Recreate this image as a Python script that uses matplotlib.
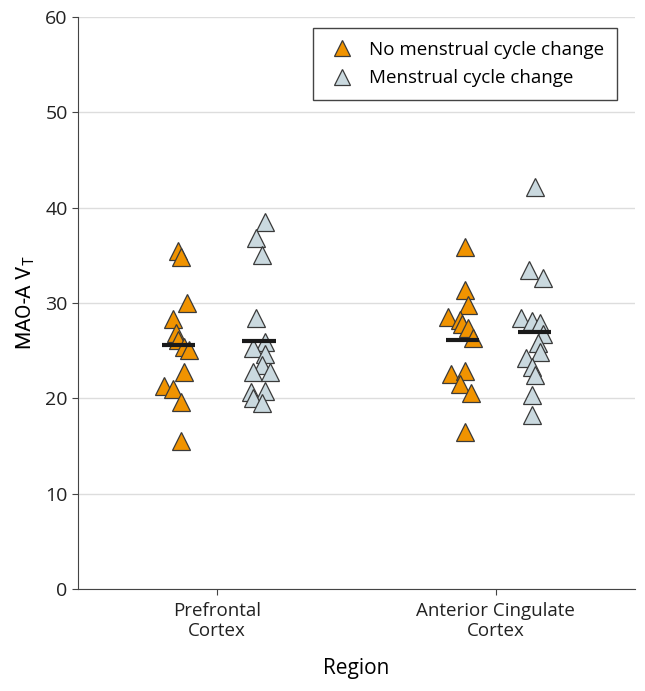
import numpy as np
import matplotlib.pyplot as plt
from matplotlib.lines import Line2D

regions = ["Prefrontal\nCortex", "Anterior Cingulate\nCortex"]

# MAO-A VT values
pfc_no = [35.5, 34.8, 30.0, 28.3, 26.9, 26.1, 25.4, 25.1, 22.8, 21.3, 21.0, 19.6, 15.5]
pfc_yes = [38.5, 36.8, 35.0, 28.4, 25.9, 25.3, 24.7, 23.5, 22.8, 22.8, 20.7, 20.8, 20.0, 19.5]
acc_no = [35.9, 31.4, 29.8, 28.5, 28.2, 27.8, 27.4, 26.3, 22.6, 22.9, 21.5, 20.6, 16.5]
acc_yes = [42.2, 33.5, 32.6, 28.4, 28.1, 27.9, 26.7, 25.8, 24.9, 24.2, 23.3, 22.5, 20.4, 18.2]

# horizontal jitter (in category units) as seen in the figure
pfc_no_jit = [-0.14, -0.13, -0.11, -0.16, -0.15, -0.14, -0.12, -0.10, -0.12, -0.19, -0.16, -0.13, -0.13]
pfc_yes_jit = [0.17, 0.14, 0.16, 0.14, 0.17, 0.13, 0.17, 0.16, 0.13, 0.19, 0.12, 0.17, 0.13, 0.16]
acc_no_jit = [-0.11, -0.11, -0.10, -0.17, -0.13, -0.12, -0.10, -0.08, -0.16, -0.11, -0.13, -0.09, -0.11]
acc_yes_jit = [0.14, 0.12, 0.17, 0.09, 0.13, 0.16, 0.17, 0.15, 0.16, 0.11, 0.13, 0.14, 0.13, 0.13]

# group mean lines
means_no = [25.6, 26.1]
means_yes = [26.0, 27.0]

orange = "#f09300"
grey_blue = "#cad9df"
edge = "#3a3a3a"

fig = plt.figure(figsize=(6.45, 6.91), dpi=100)
ax = fig.add_axes([0.121, 0.1476, 0.8635, 0.8278])

ms = 13
for pos, vals, jit in [(0, pfc_no, pfc_no_jit), (1, acc_no, acc_no_jit)]:
    ax.plot(pos + np.array(jit), vals, '^', ms=ms, mfc=orange, mec=edge, mew=0.9, ls='none', zorder=3)
for pos, vals, jit in [(0, pfc_yes, pfc_yes_jit), (1, acc_yes, acc_yes_jit)]:
    ax.plot(pos + np.array(jit), vals, '^', ms=ms, mfc=grey_blue, mec=edge, mew=0.9, ls='none', zorder=3)

for i in range(2):
    c_no = [-0.14, -0.12][i]
    c_yes = [0.15, 0.14][i]
    ax.plot([i + c_no - 0.06, i + c_no + 0.06], [means_no[i]] * 2, color="#1a1a1a", lw=3, zorder=4, solid_capstyle='butt')
    ax.plot([i + c_yes - 0.06, i + c_yes + 0.06], [means_yes[i]] * 2, color="#1a1a1a", lw=3, zorder=4, solid_capstyle='butt')

ax.set_xlim(-0.5, 1.5)
ax.set_ylim(0, 60)
ax.set_yticks(range(0, 61, 10))
ax.set_xticks([0, 1])
ax.set_xticklabels(regions, fontsize=13.5, family="Open Sans", linespacing=1.15)
for lab in ax.get_yticklabels():
    lab.set_fontsize(14)
    lab.set_family("Open Sans")
ax.yaxis.grid(True, color="#dddddd", lw=1)
ax.set_axisbelow(True)
for s in ["top", "right"]:
    ax.spines[s].set_visible(False)
ax.spines["left"].set_color("#444444")
ax.spines["bottom"].set_color("#444444")
ax.tick_params(axis='both', direction='out', length=4, color="#444444", labelcolor="#222222")
ax.tick_params(axis='x', pad=5)

ax.set_ylabel("MAO-A V$_\\mathregular{T}$", fontsize=15, family=["Liberation Sans Narrow", "Roboto"], labelpad=6)
ax.set_xlabel("Region", fontsize=15, family="Open Sans", labelpad=13)

handles = [
    Line2D([], [], marker='^', ls='none', ms=12, mfc=orange, mec=edge, mew=0.9),
    Line2D([], [], marker='^', ls='none', ms=12, mfc=grey_blue, mec=edge, mew=0.9),
]
leg = ax.legend(handles, ["No menstrual cycle change", "Menstrual cycle change"],
                loc="upper right", bbox_to_anchor=(0.968, 0.981), borderaxespad=0,
                fancybox=False, framealpha=1,
                edgecolor="#444444", prop={"family": "Open Sans", "size": 13.5},
                handletextpad=0.6, borderpad=0.7, labelspacing=0.55, handlelength=1.7)
leg.get_frame().set_linewidth(1)

fig.savefig("out.png", dpi=100)
